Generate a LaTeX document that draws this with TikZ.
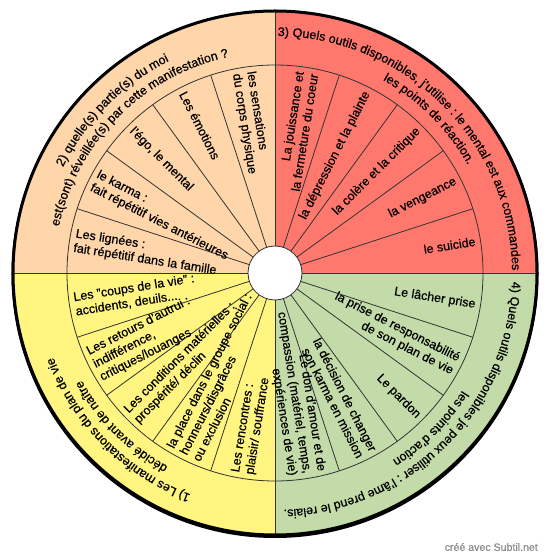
\documentclass[tikz,border=0pt]{standalone}
\usepackage{fontspec}
\setmainfont{Liberation Sans}[FakeBold=0.6]
\usetikzlibrary{decorations.text}
\definecolor{peche}{HTML}{FFD5AA}
\definecolor{saumon}{HTML}{FF786E}
\definecolor{jaune}{HTML}{FFF580}
\definecolor{vert}{HTML}{C3DBA8}
\newcommand{\roue}{\fontsize{12.5}{14.5}\selectfont}

\begin{document}
\begin{tikzpicture}[x=1pt,y=1pt,
    sep/.style={draw=black!80,line width=0.8pt},
    versdedans/.style={font=\roue,inner sep=2pt,anchor=west,align=left},
    versdehors/.style={font=\roue,inner sep=2pt,anchor=east,align=right},
    titre/.style={decorate,decoration={text along path,text align=center,text={|\roue|#1}}}]
            \useasboundingbox (-275,-286) rectangle (275,273);
            \fill[white] (-275,-286) rectangle (275,273);
            \fill[black] (0,-1.5) circle (263.5);
            \fill[peche] (0,0) -- (90:262) arc[start angle=90,end angle=180,radius=262] -- cycle;
            \fill[saumon] (0,0) -- (0:262) arc[start angle=0,end angle=90,radius=262] -- cycle;
            \fill[jaune] (0,0) -- (180:262) arc[start angle=180,end angle=270,radius=262] -- cycle;
            \fill[vert] (0,0) -- (270:262) arc[start angle=270,end angle=360,radius=262] -- cycle;
            \foreach \a in {18,36,...,342} \draw[sep] (0,0) -- (\a:208);
            \foreach \a in {0,90,180,270} \draw[sep] (0,0) -- (\a:262);
            \draw[sep] (0,0) circle (208);
            \node[circle,sep,fill=white,minimum size=54pt,inner sep=0pt] (centre) at (0,0) {};
            \draw[line width=3pt] (0,0) circle (262);

            \path[titre={2) quelle(s) partie(s) du moi}] (185:237) arc[start angle=185,end angle=85,radius=237];
            \path[titre={est(sont) réveillée(s) par cette manifestation ?}] (185:221) arc[start angle=185,end angle=85,radius=221];
            \path[titre={3) Quels outils disponibles, j'utilise : le mental est aux commandes}] (95:237) arc[start angle=95,end angle=-5,radius=237];
            \path[titre={les points de réaction.}] (95:221) arc[start angle=95,end angle=-5,radius=221];
            \path[titre={1) Les manifestations du plan de vie}] (275:237) arc[start angle=275,end angle=175,radius=237];
            \path[titre={décidé avant de naître}] (275:221) arc[start angle=275,end angle=175,radius=221];
            \path[titre={4) Quels outils disponibles je peux utiliser : l'âme prend le relais.}] (5:237) arc[start angle=5,end angle=-95,radius=237];
            \path[titre={les points d'action}] (5:221) arc[start angle=5,end angle=-95,radius=221];

            \node[versdedans,rotate=-9] (lignees) at (171:205) {Les lignées :\\fait répétitif dans la famille};
            \node[versdedans,rotate=-27] (karma) at (153:205) {le karma :\\fait répétitif vies antérieures};
            \node[versdedans,rotate=-45] (ego) at (135:205) {l'égo, le mental};
            \node[versdedans,rotate=-63] (emotions) at (117:205) {Les émotions};
            \node[versdedans,rotate=-81] (sensations) at (99:205) {les sensations\\du corps physique};

            \node[versdehors,rotate=81] (jouissance) at (81:205) {La jouissance et\\la fermeture du coeur};
            \node[versdehors,rotate=63] (depression) at (63:205) {la dépression et la plainte};
            \node[versdehors,rotate=45] (colere) at (45:205) {la colère et la critique};
            \node[versdehors,rotate=27] (vengeance) at (27:205) {la vengeance};
            \node[versdehors,rotate=9] (suicide) at (9:205) {le suicide};

            \node[versdedans,rotate=9] (coups) at (189:205) {Les "coups de la vie" :\\accidents, deuils...};
            \node[versdedans,rotate=27] (retours) at (207:205) {Les retours d'autrui :\\indifférence,\\critiques/louanges};
            \node[versdedans,rotate=45] (conditions) at (225:205) {Les conditions matérielles :\\prospérité/ déclin};
            \node[versdedans,rotate=63] (place) at (243:205) {la place dans le groupe social :\\honneurs/disgrâces\\ou exclusion};
            \node[versdedans,rotate=81] (rencontres) at (261:205) {Les rencontres :\\plaisir/ souffrance};

            \node[versdehors,rotate=-9] (lacher) at (351:205) {Le lâcher prise};
            \node[versdehors,rotate=-27] (responsabilite) at (333:205) {la prise de responsabilité\\de son plan de vie};
            \node[versdehors,rotate=-45] (pardon) at (315:205) {Le pardon};
            \node[versdehors,rotate=-63] (decision) at (297:205) {la décision de changer\\son karma en mission};
            \node[versdehors,rotate=-81] (don) at (279:205) {Le don d'amour et de\\compassion (matériel, temps,\\expériences de vie)};

            \node[anchor=east,inner sep=0pt,text=black!45,font=\fontsize{10.6}{12}\selectfont] (credit) at (263,-274) {créé avec Subtil.net};
\end{tikzpicture}
\end{document}
